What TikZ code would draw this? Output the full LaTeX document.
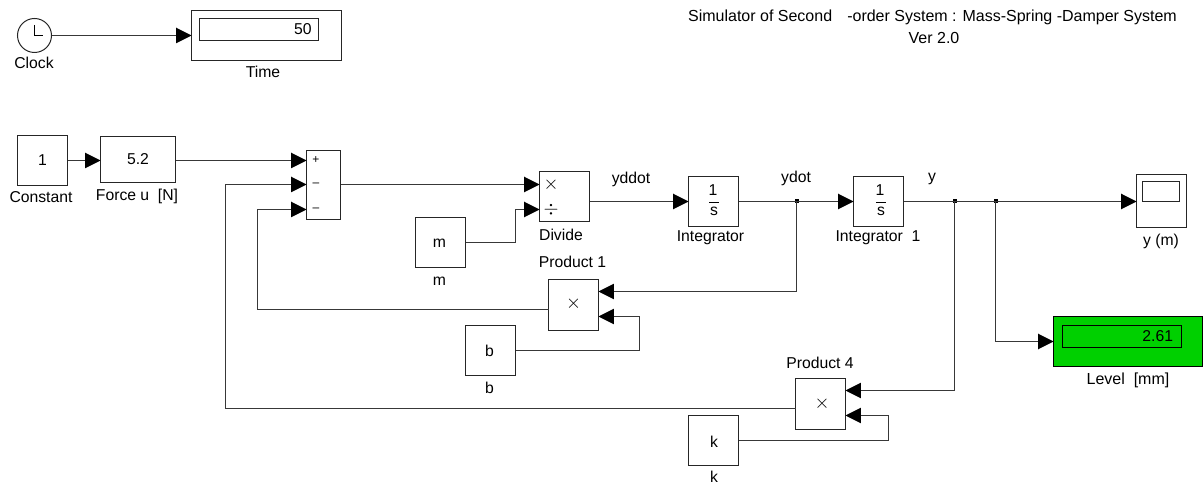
\documentclass[tikz,border=0pt]{standalone}
\usepackage{fontspec}
\setmainfont{Liberation Sans}
\usetikzlibrary{arrows.meta}
\definecolor{wire}{HTML}{383838}
\tikzset{
  x=0.75pt,y=-0.75pt,
  every node/.style={font=\fontsize{11.8}{14}\selectfont,inner sep=0pt,outer sep=0pt},
  blockbox/.style={draw=black!85,line width=0.75pt,fill=white,rectangle},
  sqbox/.style={blockbox,minimum width=37.5pt,minimum height=37.5pt},
  sig/.style={draw=wire,line width=0.75pt,-{Triangle[length=11.6pt,width=11.6pt,color=black]}},
  plainsig/.style={draw=wire,line width=0.75pt},
  junction/.style={rectangle,fill=black,minimum size=3pt},
  smallmark/.style={font=\fontsize{9}{10}\selectfont},
  opmark/.style={font=\fontsize{15}{16}\selectfont},
  titletext/.style={font=\fontsize{12}{14}\selectfont}
}
\begin{document}
\begin{tikzpicture}
\path[use as bounding box] (0,0) rectangle (1203,484);

% blocks
\node[draw=black!85,line width=0.75pt,circle,minimum size=25.5pt] (clock) at (34.5,35.5) {};
\draw[line width=0.7pt] (34.5,25) -- (34.5,35.5) -- (43,35.5);
\node (clockl) at (34,63) {Clock};
\node[blockbox,minimum width=112.5pt,minimum height=37.5pt] (time) at (266.5,35.5) {};
\node[blockbox,minimum width=89.25pt,minimum height=16.5pt] (timein) at (259,29.5) {};
\node[anchor=east] (timev) at (311.5,29) {50};
\node (timel) at (263,72) {Time};

\node[sqbox] (const) at (42.5,160.5) {1};
\node (constl) at (41,197) {Constant};
\node[blockbox,minimum width=56.25pt,minimum height=34.5pt] (force) at (138,159.5) {5.2};
\node (forcel) at (137,196) {Force u\ \ [N]};

\node[blockbox,minimum width=25.5pt,minimum height=51.75pt] (sum) at (323.5,185) {};
\node[smallmark] (sump) at (316,160) {+};
\node[smallmark] (summ1) at (316,184.5) {–};
\node[smallmark] (summ2) at (316,209.5) {–};

\node[sqbox] (divide) at (564.5,196.5) {};
\node[opmark] (divx) at (551,185) {$\times$};
\node[opmark] (divd) at (551,209.5) {$\div$};
\node (dividel) at (561,235) {Divide};

\node[sqbox] (mb) at (440.5,242.5) {};
\node (mt) at (439.5,243) {m};
\node (ml) at (439.5,281) {m};

\node[sqbox] (integ) at (713.5,201.5) {};
\node (intega) at (713,190) {1};
\draw[line width=0.7pt] (709,202.5) -- (719,202.5);
\node (integb) at (714,211) {s};
\node (integl) at (710.5,238) {Integrator};

\node[sqbox] (integb1) at (878.5,201.5) {};
\node (integc) at (880,190) {1};
\draw[line width=0.7pt] (876,202.5) -- (886,202.5);
\node (integd) at (881,211) {s};
\node (integl1) at (878,238) {Integrator\ \ 1};

\node[blockbox,minimum width=37.5pt,minimum height=38.25pt] (prod1) at (573.5,305) {};
\node[opmark] (prod1x) at (573.5,304) {$\times$};
\node (prod1l) at (572.5,262) {Product 1};

\node[sqbox] (bb) at (490.5,350.5) {};
\node (bt) at (489.5,350.5) {b};
\node (bl) at (489.5,388) {b};

\node[blockbox,minimum width=37.5pt,minimum height=38.25pt] (prod4) at (820.5,404) {};
\node[opmark] (prod4x) at (822,404) {$\times$};
\node (prod4l) at (820,363) {Product 4};

\node[sqbox] (kb) at (713.5,440.5) {};
\node (kt) at (714,441.5) {k};
\node (kl) at (714,477) {k};

\node[blockbox,minimum width=37.5pt,minimum height=39.75pt] (scope) at (1161.5,201) {};
\node[blockbox,minimum width=27.75pt,minimum height=15pt] (scopein) at (1161,191.5) {};
\node (scopel) at (1161,241) {y (m)};

\node[draw=black,line width=0.75pt,fill={rgb,255:red,0;green,208;blue,0},minimum width=111.75pt,minimum height=37.5pt] (level) at (1128,341.5) {};
\node[draw=black,line width=0.7pt,minimum width=89.25pt,minimum height=16.5pt] (levelin) at (1122,336.5) {};
\node[anchor=east] (levelv) at (1173,336) {2.61};
\node[titletext] (levell) at (1128,380) {Level\ \ [mm]};

% signal labels
\node (lyddot) at (631,179) {yddot};
\node (lydot) at (796,178.5) {ydot};
\node (ly) at (932,179) {y};

% title
\node[titletext] (title1) at (932.5,17) {Simulator of Second\hspace{8pt} -order System : Mass-Spring -Damper System};
\node[titletext] (title2) at (934,38) {Ver 2.0};

% ports and branch points
\coordinate (sumin1) at (sum.west |- 0,160.5);
\coordinate (sumin2) at (sum.west |- 0,184.5);
\coordinate (sumin3) at (sum.west |- 0,209.5);
\coordinate (divin1) at (divide.west |- 0,184.5);
\coordinate (divin2) at (divide.west |- 0,209.5);
\coordinate (p1in1) at (prod1.east |- 0,291.5);
\coordinate (p1in2) at (prod1.east |- 0,316.5);
\coordinate (p4in1) at (prod4.east |- 0,390.5);
\coordinate (p4in2) at (prod4.east |- 0,415.5);
\node[junction] (j1) at (796.5,201.5) {};
\node[junction] (j2) at (954.5,201.5) {};
\node[junction] (j3) at (995.5,201.5) {};

% connectors
\draw[sig] (clock.east |- 0,35.5) -- (time.west |- 0,35.5);
\draw[sig] (const.east) -- (force.west |- const.east);
\draw[sig] (force.east |- sumin1) -- (sumin1);
\draw[sig] (sum.east |- divin1) -- (divin1);
\draw[sig] (mb.east) -- (515.5,242.5) -- (515.5,209.5) -- (divin2);
\draw[sig] (divide.east |- integ.west) -- (integ.west);
\draw[plainsig] (integ.east) -- (j1.center);
\draw[sig] (j1.center) -- (integb1.west);
\draw[sig] (j1.center) |- (p1in1);
\draw[sig] (bb.east) -- (639.5,350.5) -- (639.5,316.5) -- (p1in2);
\draw[sig] (prod1.west |- 0,309.5) -- (257.5,309.5) -- (257.5,209.5) -- (sumin3);
\draw[plainsig] (integb1.east) -- (j2.center) -- (j3.center);
\draw[sig] (j3.center) -- (scope.west |- j3.center);
\draw[sig] (j2.center) |- (p4in1);
\draw[sig] (j3.center) |- (level.west);
\draw[sig] (kb.east) -- (888.5,440.5) -- (888.5,415.5) -- (p4in2);
\draw[sig] (prod4.west |- 0,408.5) -- (225.5,408.5) -- (225.5,184.5) -- (sumin2);
\end{tikzpicture}
\end{document}
